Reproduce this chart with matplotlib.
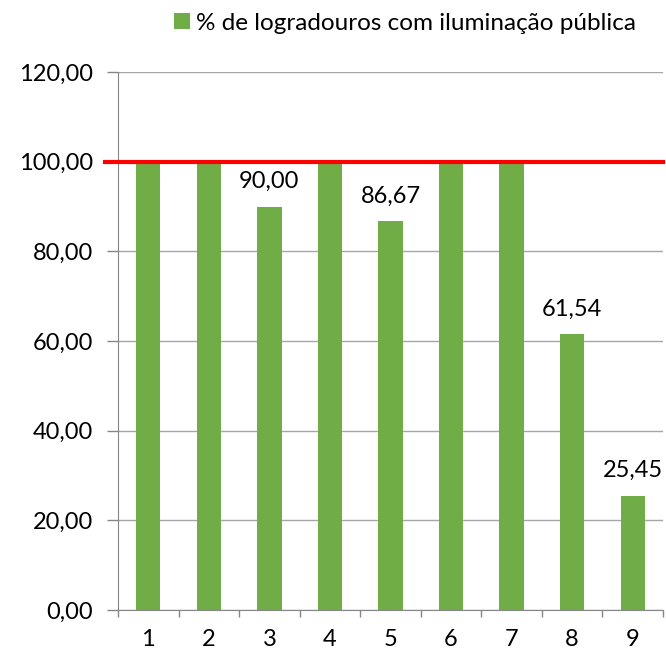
import numpy as np
import matplotlib
matplotlib.use('Agg')
from matplotlib import pyplot as plt

# data
categories = ['1', '2', '3', '4', '5', '6', '7', '8', '9']
values = [100.00, 100.00, 90.00, 100.00, 86.67, 100.00, 100.00, 61.54, 25.45]
series_name = '% de logradouros com iluminação pública'
target = 100.0
yticks = [0, 20, 40, 60, 80, 100, 120]

plt.rcParams['font.family'] = ['Lato', 'DejaVu Sans']

def fmt(v):
    return ('%.2f' % v).replace('.', ',')

W, H = 666, 653
fig = plt.figure(figsize=(W / 100, H / 100), dpi=100)
ax = fig.add_axes([118 / W, 1 - 610 / H, (663 - 118) / W, (610 - 72) / H])

x = np.arange(1, len(categories) + 1)
bars = ax.bar(x, values, width=0.4, color='#70AD47', label=series_name, zorder=2)

ax.set_xlim(0.5, len(categories) + 0.5)
ax.set_ylim(0, 120)
ax.set_yticks(yticks)
ax.set_yticklabels([fmt(v) for v in yticks])
ax.set_xticks(x)
ax.set_xticklabels(categories)

# category boundary ticks on the x axis
ax.set_xticks(np.arange(0.5, len(categories) + 1, 1), minor=True)
ax.tick_params(axis='x', which='major', length=0, pad=14, labelsize=17)
ax.tick_params(axis='x', which='minor', length=5, color='#868686', width=1)
ax.tick_params(axis='y', length=8, color='#868686', width=1, pad=10, labelsize=17)

ax.grid(axis='y', color='#A6A6A6', linewidth=1, zorder=0)
for side in ['top', 'right']:
    ax.spines[side].set_visible(False)
ax.spines['left'].set_color('#868686')
ax.spines['bottom'].set_color('#868686')

# reference line at 100
ax.axhline(target, xmin=-13 / 545, xmax=1, color='#FF0000', linewidth=3, clip_on=False, zorder=3)

for xi, v in zip(x, values):
    if v < target:
        ax.annotate(fmt(v), (xi, v), xytext=(0, 13.5),
                    textcoords='offset points', ha='center', va='baseline', fontsize=17)

leg = fig.legend(handles=[bars], labels=[series_name], loc='center',
                 bbox_to_anchor=(405 / W, 1 - 23 / H), frameon=False, fontsize=17.5,
                 handlelength=0.65, handleheight=0.65, handletextpad=0.25)

fig.savefig('out.png', dpi=100)
